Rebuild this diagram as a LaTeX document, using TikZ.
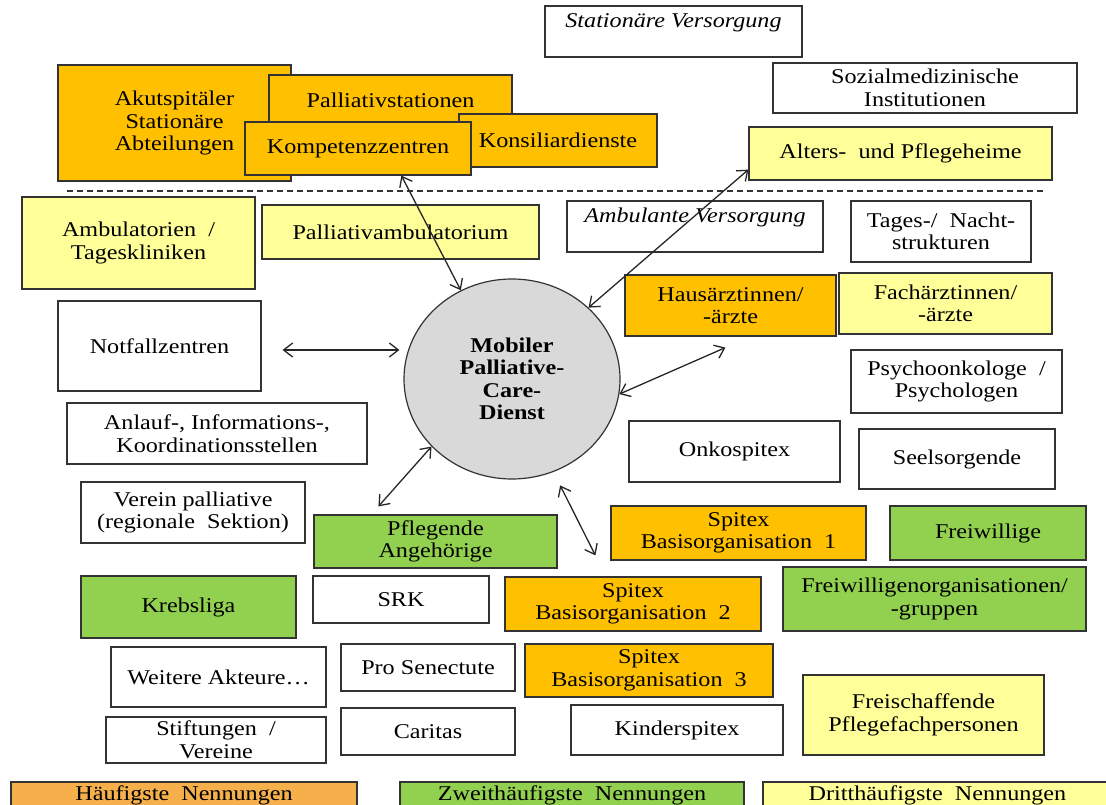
\documentclass[tikz,border=0pt]{standalone}
\usepackage{fontspec}
\setmainfont{Liberation Serif}[FakeStretch=1.15]
\usetikzlibrary{arrows.meta,shapes.geometric}

\definecolor{ofill}{HTML}{FFC000}
\definecolor{gfill}{HTML}{92D050}
\definecolor{yfill}{HTML}{FFFF99}
\definecolor{lfill}{HTML}{F5B04B}
\definecolor{cfill}{HTML}{D9D9D9}

\tikzset{
    box/.style={draw=black!80, line width=1.2pt, align=center,
        inner sep=1pt, font=\fontsize{21}{22.5}\selectfont},
    obox/.style={box, fill=ofill},
    gbox/.style={box, fill=gfill},
    ybox/.style={box, fill=yfill},
    link/.style={{Straight Barb[length=9pt,width=14pt]}-{Straight Barb[length=9pt,width=14pt]},
        line width=1.3pt, black!85},
}

\begin{document}
\begin{tikzpicture}[x=1pt,y=-1pt]
    \useasboundingbox (0,0) rectangle (1106,805);

    % stationaer
    \node[box, minimum width=257, minimum height=51] (stat) at (673.5,31.5)
        {\itshape Stationäre Versorgung\\ ~};
    \node[obox, minimum width=233, minimum height=116] (akut) at (174.5,123)
        {Akutspitäler\\Stationäre\\Abteilungen};
    \node[obox, minimum width=243, minimum height=50] (palst) at (390.5,100)
        {Palliativstationen};
    \node[obox, minimum width=198, minimum height=53] (kons) at (558,140.5)
        {Konsiliardienste};
    \node[obox, minimum width=226, minimum height=53] (komp) at (358,148.5)
        {Kompetenzzentren};
    \node[box, minimum width=304, minimum height=50] (sozmed) at (925,88)
        {Sozialmedizinische\\Institutionen};
    \node[ybox, minimum width=303, minimum height=53] (alters) at (900.5,153.5)
        {Alters-\ \ und Pflegeheime};

    \draw[black!80, line width=1.2pt, dash pattern=on 6pt off 4pt] (67,191) -- (1044,191);

    % ambulant
    \node[ybox, minimum width=233, minimum height=92] (ambul) at (138.5,243)
        {Ambulatorien\ \ /\\Tageskliniken};
    \node[ybox, minimum width=277, minimum height=54] (palamb) at (400.5,232)
        {Palliativambulatorium};
    \node[box, minimum width=256, minimum height=51] (amb) at (695,226.5)
        {\itshape Ambulante Versorgung\\ ~};
    \node[box, minimum width=180, minimum height=61] (tages) at (941,231.5)
        {Tages-/\ \ Nacht-\\strukturen};
    \node[obox, minimum width=211, minimum height=61] (hausarzt) at (730.5,305.5)
        {Hausärztinnen/\\-ärzte};
    \node[ybox, minimum width=213, minimum height=61] (facharzt) at (945.5,303.5)
        {Fachärztinnen/\\-ärzte};
    \node[box, minimum width=203, minimum height=90] (notfall) at (159.5,346)
        {Notfallzentren};
    \node[draw=black!80, line width=1.2pt, ellipse, fill=cfill,
        minimum width=216, minimum height=200, inner sep=0pt, align=center,
        font=\fontsize{21}{22.5}\selectfont\bfseries
    ] (mpcd) at (512,379) {Mobiler\\Palliative-\\Care-\\Dienst};
    \node[box, minimum width=211, minimum height=63] (psycho) at (956.5,381.5)
        {Psychoonkologe\ \ /\\Psychologen};
    \node[box, minimum width=300, minimum height=61] (anlauf) at (217,433.5)
        {Anlauf-,\ Informations-,\\Koordinationsstellen};
    \node[box, minimum width=211, minimum height=61] (onko) at (734.5,451.5)
        {Onkospitex};
    \node[box, minimum width=196, minimum height=60] (seel) at (957,459)
        {Seelsorgende};
    \node[box, minimum width=224, minimum height=61] (verein) at (193,512.5)
        {Verein palliative\\(regionale\ \ Sektion)};
    \node[gbox, minimum width=243, minimum height=53] (pfleg) at (435.5,541.5)
        {Pflegende\\Angehörige};
    \node[obox, minimum width=255, minimum height=54] (spitex1) at (738.5,533)
        {Spitex\\Basisorganisation\ \ 1};
    \node[gbox, minimum width=196, minimum height=54] (freiw) at (988,533)
        {Freiwillige};
    \node[gbox, minimum width=215, minimum height=62] (krebs) at (188.5,607)
        {Krebsliga};
    \node[box, minimum width=176, minimum height=47] (srk) at (401,599.5)
        {SRK};
    \node[obox, minimum width=256, minimum height=54] (spitex2) at (633,604)
        {Spitex\\Basisorganisation\ \ 2};
    \node[gbox, minimum width=303, minimum height=64] (freiorg) at (934.5,599)
        {Freiwilligenorganisationen/\\-gruppen};
    \node[box, minimum width=215, minimum height=60] (weitere) at (218.5,677)
        {Weitere Akteure…};
    \node[box, minimum width=174, minimum height=47] (prosen) at (428,667.5)
        {Pro Senectute};
    \node[obox, minimum width=248, minimum height=53] (spitex3) at (649,670.5)
        {Spitex\\Basisorganisation\ \ 3};
    \node[box, minimum width=220, minimum height=46, inner sep=0pt] (stift) at (216,740)
        {Stiftungen\ \ /\\Vereine};
    \node[box, minimum width=174, minimum height=47] (caritas) at (428,731.5)
        {Caritas};
    \node[box, minimum width=212, minimum height=50] (kinder) at (677,730)
        {Kinderspitex};
    \node[ybox, minimum width=241, minimum height=80] (freisch) at (923.5,715)
        {Freischaffende\\Pflegefachpersonen};

    % legende
    \node[box, fill=lfill, minimum width=346, minimum height=26] (leg1) at (184,795)
        {Häufigste\ \ Nennungen};
    \node[gbox, minimum width=344, minimum height=26] (leg2) at (572,795)
        {Zweithäufigste\ \ Nennungen};
    \node[ybox, minimum width=349, minimum height=26] (leg3) at (937.5,795)
        {Dritthäufigste\ \ Nennungen};

    \draw[link] ([xshift=157pt]komp.south west) -- (mpcd.120);
    \draw[link] ([yshift=11pt]alters.south west) -- (mpcd.43);
    \draw[link, shorten <=21pt, shorten >=4pt] ([yshift=-4pt]notfall.east)
        -- ([yshift=-4pt]notfall.east -| mpcd.west);
    \draw[link] (mpcd.-8) -- ([xshift=101pt,yshift=-11pt]hausarzt.south west);
    \draw[link] (mpcd.-140) -- ([xshift=65pt,yshift=8pt]pfleg.north west);
    \draw[link, shorten <=15pt] (mpcd.-66) -- ([xshift=-15pt,yshift=-50pt]spitex1.north west);
\end{tikzpicture}
\end{document}
